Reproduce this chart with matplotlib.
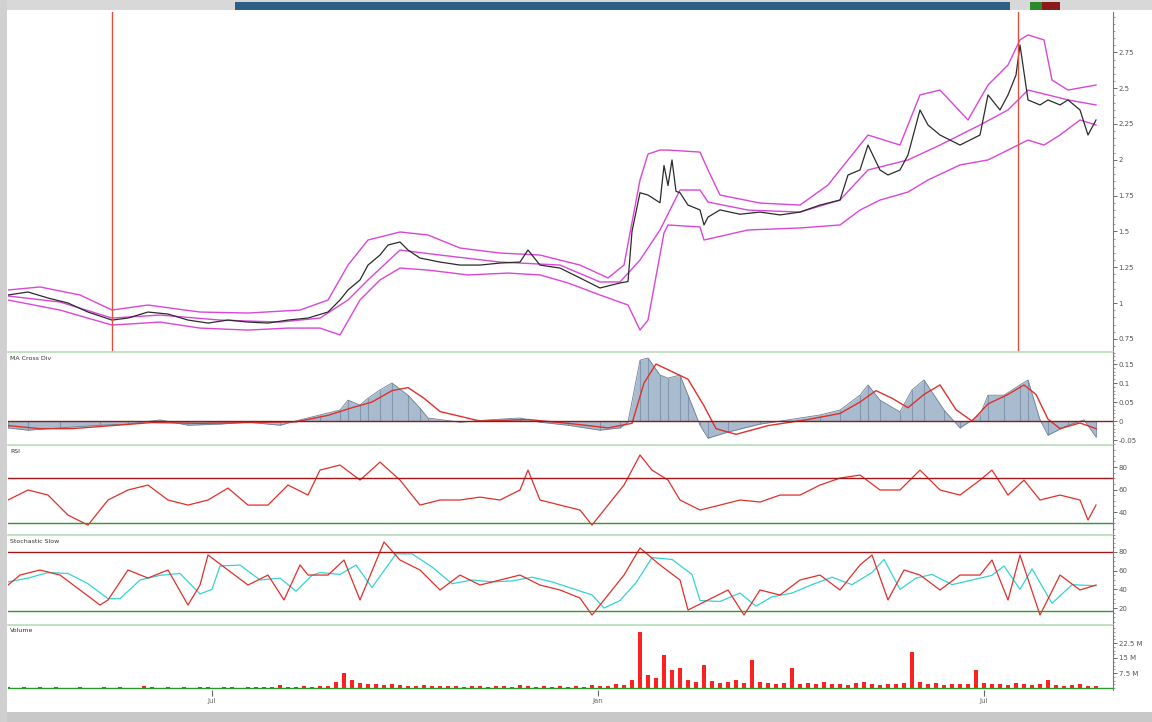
import numpy as np
import matplotlib
matplotlib.use("Agg")
import matplotlib.pyplot as plt
from matplotlib.patches import Rectangle

# ---- price panel (bar index, value) ----
px_bar = [0, 5, 10, 15, 20, 26, 30, 35, 40, 45, 50, 55, 60, 65, 70, 75, 80, 83, 85, 88, 90, 93, 95, 98,
          100, 103, 108, 113, 118, 123, 128, 130, 133, 138, 143, 148, 153, 155, 156, 158, 160, 163, 164,
          165, 166, 167, 168, 170, 173, 174, 175, 178, 183, 188, 193, 198, 203, 208, 210, 213, 215, 218,
          220, 223, 225, 228, 230, 233, 238, 243, 245, 248, 250, 252, 253, 255, 258, 260, 263, 265, 268,
          270, 272]
px_val = [1.056, 1.077, 1.035, 1.000, 0.937, 0.881, 0.895, 0.937, 0.923, 0.881, 0.860, 0.881, 0.867,
          0.860, 0.881, 0.895, 0.937, 1.021, 1.091, 1.161, 1.265, 1.335, 1.405, 1.426, 1.370, 1.314,
          1.286, 1.265, 1.265, 1.279, 1.286, 1.370, 1.265, 1.244, 1.175, 1.105, 1.140, 1.150, 1.500,
          1.770, 1.754, 1.700, 1.960, 1.820, 1.999, 1.780, 1.770, 1.684, 1.650, 1.545, 1.600, 1.650,
          1.620, 1.635, 1.615, 1.635, 1.684, 1.719, 1.894, 1.929, 2.103, 1.929, 1.894, 1.929, 2.034,
          2.348, 2.243, 2.173, 2.103, 2.173, 2.453, 2.348, 2.453, 2.592, 2.802, 2.418, 2.383, 2.418,
          2.383, 2.418, 2.348, 2.173, 2.278]

up_bar = [0, 8, 18, 26, 35, 48, 60, 73, 80, 85, 90, 98, 105, 113, 123, 133, 143, 150, 154, 158, 160,
          163, 165, 173, 175, 178, 188, 198, 205, 210, 215, 223, 228, 233, 240, 245, 250, 253, 255,
          259, 261, 265, 272]
up_val = [1.091, 1.112, 1.056, 0.951, 0.986, 0.937, 0.930, 0.951, 1.021, 1.265, 1.440, 1.496, 1.475,
          1.384, 1.349, 1.335, 1.265, 1.175, 1.265, 1.859, 2.040, 2.068, 2.068, 2.054, 1.929, 1.754,
          1.698, 1.684, 1.824, 1.999, 2.173, 2.103, 2.453, 2.487, 2.278, 2.522, 2.662, 2.837, 2.872,
          2.837, 2.557, 2.487, 2.522]

mid_bar = [0, 13, 26, 38, 53, 68, 78, 85, 90, 98, 108, 123, 138, 148, 153, 158, 163, 168, 173, 175,
           185, 198, 208, 215, 225, 233, 243, 250, 255, 260, 265, 272]
mid_val = [1.049, 1.007, 0.895, 0.916, 0.881, 0.867, 0.895, 1.021, 1.161, 1.370, 1.335, 1.286, 1.265,
           1.147, 1.147, 1.300, 1.510, 1.789, 1.789, 1.705, 1.649, 1.635, 1.719, 1.929, 1.999, 2.103,
           2.243, 2.348, 2.487, 2.453, 2.418, 2.383]

lo_bar = [0, 13, 26, 38, 48, 60, 70, 78, 83, 88, 93, 98, 105, 115, 125, 133, 140, 148, 155, 158, 160,
          164, 165, 173, 174, 185, 198, 208, 213, 218, 225, 230, 238, 245, 250, 255, 259, 263, 268, 272]
lo_val = [1.021, 0.951, 0.846, 0.867, 0.825, 0.811, 0.825, 0.825, 0.777, 1.021, 1.161, 1.244, 1.230,
          1.196, 1.209, 1.196, 1.140, 1.056, 0.986, 0.811, 0.881, 1.489, 1.545, 1.531, 1.440, 1.510,
          1.524, 1.545, 1.649, 1.719, 1.775, 1.859, 1.964, 1.999, 2.068, 2.138, 2.103, 2.173, 2.278,
          2.243]

marker_bars = [26, 252.5]

# ---- MACD ----
macd_bar = [0, 5, 13, 23, 30, 38, 45, 53, 60, 68, 73, 78, 83, 85, 88, 90, 93, 96, 100, 103, 105, 113,
            120, 128, 133, 140, 148, 153, 155, 158, 160, 163, 165, 168, 170, 173, 175, 180, 188, 195,
            203, 208, 213, 215, 218, 223, 226, 229, 234, 238, 243, 245, 249, 253, 255, 258, 260, 265,
            269, 272]
macd_val = [-0.018, -0.024, -0.018, -0.011, -0.008, 0.003, -0.011, -0.008, -0.003, -0.011, 0.003,
            0.016, 0.029, 0.055, 0.042, 0.060, 0.082, 0.100, 0.068, 0.034, 0.008, -0.003, 0.003,
            0.008, -0.003, -0.011, -0.024, -0.018, -0.003, 0.160, 0.166, 0.121, 0.113, 0.121, 0.068,
            -0.011, -0.045, -0.029, -0.008, 0.003, 0.016, 0.029, 0.068, 0.095, 0.055, 0.024, 0.082,
            0.108, 0.029, -0.018, 0.016, 0.068, 0.068, 0.095, 0.108, 0.003, -0.037, -0.011, 0.003,
            -0.042]
sig_bar = [0, 8, 16, 26, 36, 48, 60, 72, 80, 86, 91, 96, 100, 104, 108, 118, 130, 140, 150, 156, 159,
           162, 166, 170, 174, 177, 182, 190, 200, 208, 213, 217, 221, 225, 229, 233, 237, 241, 245,
           250, 254, 257, 260, 263, 268, 272]
sig_val = [-0.012, -0.020, -0.020, -0.012, -0.004, -0.006, -0.004, -0.002, 0.015, 0.035, 0.050, 0.080,
           0.088, 0.060, 0.025, 0.000, 0.004, -0.006, -0.018, -0.006, 0.100, 0.150, 0.130, 0.110,
           0.040, -0.020, -0.035, -0.012, 0.004, 0.020, 0.050, 0.080, 0.060, 0.035, 0.070, 0.095,
           0.030, 0.000, 0.045, 0.070, 0.095, 0.070, 0.005, -0.020, -0.005, -0.020]

# ---- RSI ----
rsi_bar = [0, 5, 10, 15, 20, 25, 30, 35, 40, 45, 50, 55, 60, 65, 70, 75, 78, 83, 88, 93, 98, 103, 108,
           113, 118, 123, 128, 130, 133, 138, 143, 146, 150, 154, 158, 161, 165, 168, 173, 178, 183,
           188, 193, 198, 203, 208, 213, 218, 223, 228, 233, 238, 243, 246, 250, 254, 258, 263, 268,
           270, 272]
rsi_val = [50.7, 59.6, 55.1, 37.3, 28.4, 50.7, 59.6, 64.0, 50.7, 46.2, 50.7, 61.3, 46.2, 46.2, 64.0,
           55.1, 77.3, 81.8, 68.4, 84.4, 68.4, 46.2, 50.7, 50.7, 53.3, 50.7, 59.6, 77.3, 50.7, 46.2,
           41.8, 28.4, 46.2, 64.0, 90.7, 77.3, 68.4, 50.7, 41.8, 46.2, 50.7, 48.9, 55.1, 55.1, 64.0,
           70.2, 72.9, 59.6, 59.6, 77.3, 59.6, 55.1, 68.4, 77.3, 55.1, 68.4, 50.7, 55.1, 50.7, 32.9,
           46.2]

# ---- Stochastic ----
k_bar = [0, 3, 8, 13, 18, 23, 25, 30, 35, 40, 45, 48, 50, 55, 60, 65, 69, 73, 75, 80, 84, 88, 94, 98,
         103, 108, 113, 118, 123, 128, 133, 138, 143, 146, 150, 154, 158, 163, 168, 170, 175, 180,
         184, 188, 193, 198, 203, 208, 213, 216, 220, 224, 228, 233, 238, 243, 246, 250, 253, 258,
         263, 268, 272]
k_val = [44.6, 55.3, 60.7, 55.3, 39.3, 23.2, 28.6, 60.7, 52.1, 60.7, 23.2, 44.6, 76.8, 60.7, 44.6,
         55.3, 28.6, 66.1, 55.3, 55.3, 71.4, 28.6, 90.7, 71.4, 60.7, 39.3, 55.3, 44.6, 50.0, 55.3,
         44.6, 39.3, 30.7, 12.5, 33.9, 55.3, 84.3, 66.1, 50.0, 17.8, 28.6, 39.3, 12.5, 39.3, 33.9,
         50.0, 55.3, 39.3, 66.1, 76.8, 28.6, 60.7, 55.3, 39.3, 55.3, 55.3, 71.4, 28.6, 76.8, 12.5,
         55.3, 39.3, 44.6]
d_bar = [0, 5, 10, 15, 20, 25, 28, 33, 38, 43, 48, 51, 53, 58, 63, 68, 72, 76, 78, 83, 87, 91, 97,
         101, 106, 111, 116, 121, 126, 131, 136, 141, 146, 149, 153, 157, 161, 166, 171, 173, 178,
         183, 187, 191, 196, 201, 206, 211, 216, 219, 223, 227, 231, 236, 241, 246, 249, 253, 256,
         261, 266, 271, 272]
d_val = [48.0, 52.0, 58.0, 57.0, 46.0, 30.0, 30.0, 50.0, 55.0, 57.0, 35.0, 40.0, 65.0, 66.0, 50.0,
         52.0, 38.0, 55.0, 58.0, 56.0, 66.0, 42.0, 78.0, 78.0, 64.0, 46.0, 50.0, 48.0, 49.0, 53.0,
         48.0, 41.0, 34.0, 20.0, 28.0, 47.0, 74.0, 72.0, 56.0, 28.0, 27.0, 36.0, 22.0, 32.0, 36.0,
         45.0, 53.0, 45.0, 58.0, 72.0, 40.0, 52.0, 56.0, 45.0, 50.0, 55.0, 65.0, 40.0, 62.0, 25.0,
         45.0, 44.0, 44.0]

# ---- Volume (millions), one value every 2 bars ----
vol = [0.3, 0.2, 0.4, 0.2, 0.3, 0.2, 0.3, 0.2, 0.2, 0.3, 0.2, 0.2, 0.3, 0.2, 0.3, 0.2, 0.2, 1.0,
       0.3, 0.2, 0.3, 0.2, 0.4, 0.2, 0.5, 0.3, 0.2, 0.3, 0.4, 0.2, 0.3, 0.5, 0.3, 0.4, 1.5, 0.5,
       0.6, 0.8, 0.6, 0.9, 0.8, 3.0, 7.5, 4.0, 2.5, 1.8, 2.0, 1.5, 2.0, 1.5, 1.2, 1.0, 1.3, 0.8,
       1.0, 0.8, 0.9, 0.7, 0.8, 1.0, 0.7, 0.8, 0.9, 0.7, 1.5, 0.8, 0.6, 0.8, 0.7, 0.9, 0.6, 0.8,
       0.7, 1.5, 0.8, 1.0, 2.0, 1.5, 4.0, 28.0, 6.5, 5.0, 16.5, 9.0, 10.0, 4.0, 3.0, 11.5, 3.5,
       2.5, 3.0, 4.0, 2.5, 14.0, 3.0, 2.5, 2.0, 2.5, 10.0, 2.0, 2.5, 1.8, 3.0, 2.0, 2.2, 1.5, 2.5,
       3.0, 2.0, 1.5, 2.0, 1.8, 2.5, 18.0, 3.0, 2.0, 2.5, 1.5, 2.0, 1.8, 2.2, 9.0, 2.5, 1.8, 2.0,
       1.5, 2.5, 1.8, 1.5, 2.0, 4.0, 1.5, 1.2, 1.5, 2.0, 1.0, 1.2]
vol_bar = np.arange(len(vol)) * 2

date_pos = [51, 147.5, 244]
date_lab = ["Jul", "Jan", "Jul"]

W, H = 1152, 722
fig = plt.figure(figsize=(W / 100, H / 100), dpi=100)
fig.patch.set_facecolor("white")

XL, XR = 8, 1113
def add_panel(top, bottom):
    return fig.add_axes([XL / W, 1 - bottom / H, (XR - XL) / W, (bottom - top) / H])

ax1 = add_panel(12, 352)
ax2 = add_panel(352, 445)
ax3 = add_panel(445, 535)
ax4 = add_panel(535, 625)
ax5 = add_panel(625, 690)
axes = [ax1, ax2, ax3, ax4, ax5]

XMAX = (XR - XL) / 4.0
for ax in axes:
    ax.set_xlim(0, XMAX)
    ax.yaxis.tick_right()
    ax.tick_params(axis="y", labelsize=5, length=3, width=0.6, colors="#555555", pad=1)
    ax.tick_params(axis="x", bottom=False, labelbottom=False)
    for s in ["left", "top", "bottom"]:
        ax.spines[s].set_visible(False)
    ax.spines["right"].set_color("#777777")
    ax.spines["right"].set_linewidth(0.8)
    ax.minorticks_on()
    ax.tick_params(axis="y", which="minor", length=1.5, width=0.5, colors="#777777")
    ax.tick_params(axis="x", which="minor", bottom=False)

# price
MAG = "#d946d9"
ax1.plot(up_bar, up_val, color=MAG, lw=1.0)
ax1.plot(mid_bar, mid_val, color=MAG, lw=1.0)
ax1.plot(lo_bar, lo_val, color=MAG, lw=1.0)
ax1.plot(px_bar, px_val, color="#2b2b2b", lw=0.9)
for b in marker_bars:
    ax1.axvline(b, color="#e05040", lw=1.0)
ax1.set_ylim(0.658, 3.032)
ax1.set_yticks([0.75, 1, 1.25, 1.5, 1.75, 2, 2.25, 2.5, 2.75])
ax1.set_yticklabels(["0.75", "1", "1.25", "1.5", "1.75", "2", "2.25", "2.5", "2.75"])

# macd
ax2.fill_between(macd_bar, macd_val, 0, color="#a9bccf", lw=0)
ax2.vlines(macd_bar, 0, macd_val, color="#8497ae", lw=0.8)
ax2.plot(macd_bar, macd_val, color="#6d7f96", lw=0.6)
ax2.plot(sig_bar, sig_val, color="#e0302a", lw=1.0)
ax2.axhline(0, color="#8b1a1a", lw=1.0)
ax2.set_ylim(-0.063, 0.1816)
ax2.set_yticks([-0.05, 0, 0.05, 0.1, 0.15])
ax2.set_yticklabels(["-0.05", "0", "0.05", "0.1", "0.15"])
ax2.text(0.002, 0.96, "MA Cross Div", transform=ax2.transAxes, fontsize=4.5, va="top", color="#333333")

# rsi
ax3.plot(rsi_bar, rsi_val, color="#e0302a", lw=0.9)
ax3.axhline(70, color="#a01818", lw=1.0)
ax3.axhline(30, color="#2a9a2a", lw=1.0)
ax3.set_ylim(19.6, 99.6)
ax3.set_yticks([40, 60, 80])
ax3.text(0.002, 0.96, "RSI", transform=ax3.transAxes, fontsize=4.5, va="top", color="#333333")

# stochastic
ax4.plot(d_bar, d_val, color="#35d3d3", lw=0.9)
ax4.plot(k_bar, k_val, color="#e0302a", lw=0.9)
ax4.axhline(80, color="#a01818", lw=1.0)
ax4.axhline(17, color="#2a9a2a", lw=1.0)
ax4.set_ylim(1.8, 98.2)
ax4.set_yticks([20, 40, 60, 80])
ax4.text(0.002, 0.96, "Stochastic Slow", transform=ax4.transAxes, fontsize=4.5, va="top", color="#333333")

# volume
ax5.bar(vol_bar, vol, width=1.1, color="#ff2020", lw=0)
ax5.axhline(0, color="#2a9a2a", lw=1.0)
ax5.set_ylim(-1, 31.5)
ax5.set_yticks([7.5, 15, 22.5])
ax5.set_yticklabels(["7.5 M", "15 M", "22.5 M"])
ax5.text(0.002, 0.96, "Volume", transform=ax5.transAxes, fontsize=4.5, va="top", color="#333333")

# panel separators
SEP = "#b8dcb8"
for ax in axes[1:]:
    ax.axhline(ax.get_ylim()[1], color=SEP, lw=1.2, clip_on=False)

# date axis
ax5.set_xticks(date_pos)
ax5.set_xticklabels(date_lab)
ax5.tick_params(axis="x", which="major", bottom=True, labelbottom=True, length=4, labelsize=5,
                colors="#666666", pad=2)

# window chrome
fig.add_artist(Rectangle((0, 1 - 10 / H), 1, 10 / H, transform=fig.transFigure, color="#d8d8d8", lw=0))
fig.add_artist(Rectangle((235 / W, 1 - 10 / H), 775 / W, 8 / H, transform=fig.transFigure,
                         color="#2f5f86", lw=0))
fig.add_artist(Rectangle((1030 / W, 1 - 10 / H), 12 / W, 8 / H, transform=fig.transFigure,
                         color="#2a8a2a", lw=0))
fig.add_artist(Rectangle((1042 / W, 1 - 10 / H), 18 / W, 8 / H, transform=fig.transFigure,
                         color="#8a1a1a", lw=0))
fig.add_artist(Rectangle((0, 0), 1, 10 / H, transform=fig.transFigure, color="#c8c8c8", lw=0))
fig.add_artist(Rectangle((0, 0), 7 / W, 1, transform=fig.transFigure, color="#d0d0d0", lw=0))

fig.savefig("out.png", dpi=100)
